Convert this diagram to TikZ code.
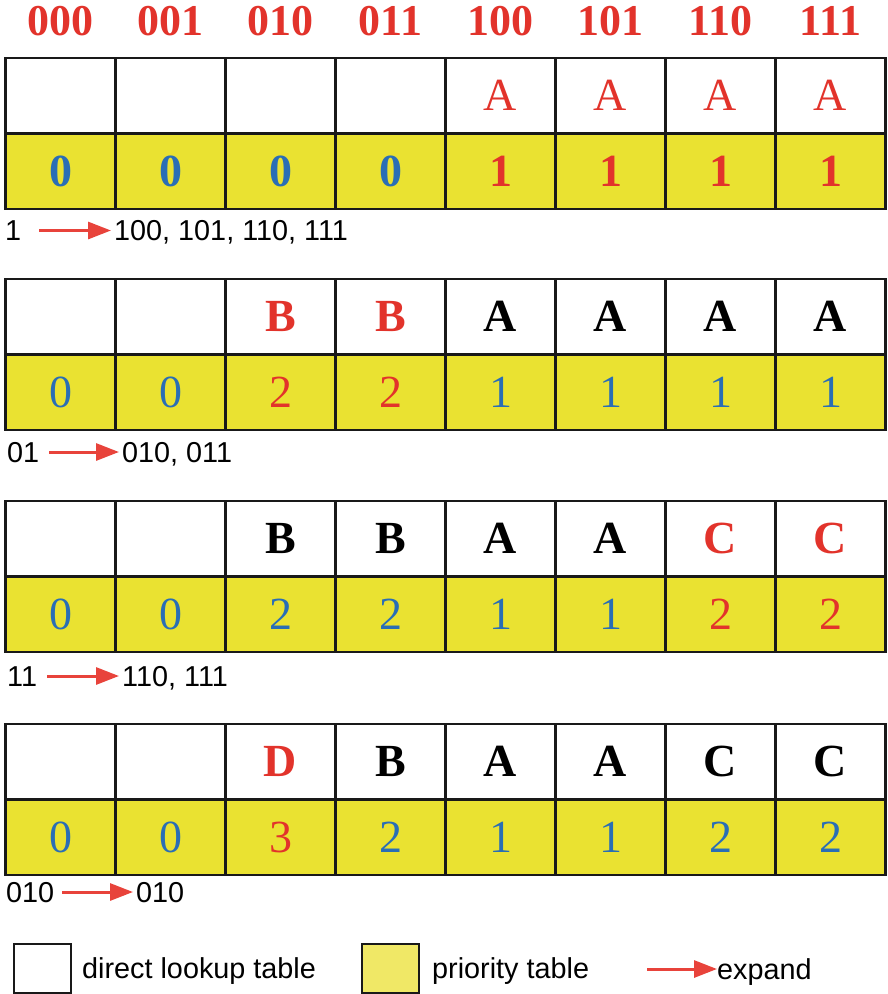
\documentclass[tikz,border=0pt]{standalone}
\usepackage{fontspec}
\setmainfont{Liberation Serif}
\setsansfont{Liberation Sans}
\usetikzlibrary{arrows.meta, positioning}
\definecolor{LookupRed}{HTML}{E2332B}
\definecolor{LookupBlue}{HTML}{2A6EB5}
\definecolor{LookupYellow}{HTML}{EAE231}
\definecolor{LookupLight}{HTML}{F0E866}
\definecolor{LookupArrow}{HTML}{E8433B}
\newcommand{\cellfont}{\fontsize{46}{46}\selectfont}
\newcommand{\hdrfont}{\fontsize{44}{44}\selectfont\bfseries}
\newcommand{\lblfont}{\fontsize{28.8}{29}\selectfont\sffamily}

\begin{document}
\begin{tikzpicture}[x=1pt, y=-1pt,
    dlt/.style={
      rectangle, draw=black!90, line width=2.6pt, fill=white,
      minimum width=110pt, minimum height=75.5pt, inner sep=0pt, font=\cellfont
    },
    pri/.style={dlt, fill=LookupYellow},
    blank/.style={},
    redR/.style={text=LookupRed},
    redB/.style={text=LookupRed, font=\cellfont\bfseries},
    bluR/.style={text=LookupBlue},
    bluB/.style={text=LookupBlue, font=\cellfont\bfseries},
    blkB/.style={text=black, font=\cellfont\bfseries},
    hdr/.style={text=LookupRed, font=\hdrfont, inner sep=0pt},
    lbl/.style={font=\lblfont, inner sep=0pt, text height=20.5pt, text depth=0pt},
    legbox/.style={rectangle, draw=black!90, line width=2pt, minimum width=57pt, minimum height=49pt},
    expandarr/.style={-{Triangle[length=23pt, width=17pt]}, line width=3pt, draw=LookupArrow}
  ]
  \useasboundingbox (0,0) rectangle (887,994);

  % column headers
  \foreach \h [count=\i] in {000, 001, 010, 011, 100, 101, 110, 111}
    \node[hdr] (h\i) at (110*\i-49.5, 21) {\h};

  % table 1
  \foreach \s/\v [count=\i] in {blank/{}, blank/{}, blank/{}, blank/{}, redR/A, redR/A, redR/A, redR/A}
    \node[dlt, \s] (d1-\i) at (110*\i-49.5, 95.75) {\v};
  \foreach \s/\v [count=\i] in {bluB/0, bluB/0, bluB/0, bluB/0, redB/1, redB/1, redB/1, redB/1}
    \node[pri, \s] (p1-\i) at (110*\i-49.5, 171.25) {\v};

  % table 2
  \foreach \s/\v [count=\i] in {blank/{}, blank/{}, redB/B, redB/B, blkB/A, blkB/A, blkB/A, blkB/A}
    \node[dlt, \s] (d2-\i) at (110*\i-49.5, 316.75) {\v};
  \foreach \s/\v [count=\i] in {bluR/0, bluR/0, redR/2, redR/2, bluR/1, bluR/1, bluR/1, bluR/1}
    \node[pri, \s] (p2-\i) at (110*\i-49.5, 392.25) {\v};

  % table 3
  \foreach \s/\v [count=\i] in {blank/{}, blank/{}, blkB/B, blkB/B, blkB/A, blkB/A, redB/C, redB/C}
    \node[dlt, \s] (d3-\i) at (110*\i-49.5, 538.75) {\v};
  \foreach \s/\v [count=\i] in {bluR/0, bluR/0, bluR/2, bluR/2, bluR/1, bluR/1, redR/2, redR/2}
    \node[pri, \s] (p3-\i) at (110*\i-49.5, 614.25) {\v};

  % table 4
  \foreach \s/\v [count=\i] in {blank/{}, blank/{}, redB/D, blkB/B, blkB/A, blkB/A, blkB/C, blkB/C}
    \node[dlt, \s] (d4-\i) at (110*\i-49.5, 761.75) {\v};
  \foreach \s/\v [count=\i] in {bluR/0, bluR/0, redR/3, bluR/2, bluR/1, bluR/1, bluR/2, bluR/2}
    \node[pri, \s] (p4-\i) at (110*\i-49.5, 837.25) {\v};

  % expansions
  \node[lbl, anchor=west] (src1) at (5, 230.5) {1};
  \node[lbl, anchor=west] (dst1) at (114, 230.5) {100, 101, 110, 111};
  \draw[expandarr] ([xshift=18pt]src1.east) -- ([xshift=-3pt]dst1.west);

  \node[lbl, anchor=west] (src2) at (7, 452) {01};
  \node[lbl, anchor=west] (dst2) at (122, 452) {010, 011};
  \draw[expandarr] ([xshift=10pt]src2.east) -- ([xshift=-3pt]dst2.west);

  \node[lbl, anchor=west] (src3) at (7, 676) {11};
  \node[lbl, anchor=west] (dst3) at (122, 676) {110, 111};
  \draw[expandarr] ([xshift=10pt]src3.east) -- ([xshift=-3pt]dst3.west);

  \node[lbl, anchor=west] (src4) at (6, 892) {010};
  \node[lbl, anchor=west] (dst4) at (136, 892) {010};
  \draw[expandarr] ([xshift=8pt]src4.east) -- ([xshift=-3pt]dst4.west);

  % legend
  \node[legbox, fill=white] (legd) at (42.5, 968.5) {};
  \node[lbl, right=10pt of legd] (legdt) {direct lookup table};
  \node[legbox, fill=LookupLight] (legp) at (390.5, 968.5) {};
  \node[lbl, right=12pt of legp] (legpt) {priority table};
  \coordinate (lega) at (647, 969);
  \node[lbl, anchor=west] (legx) at (717, 969) {expand};
  \draw[expandarr] (lega) -- (legx.west);
\end{tikzpicture}
\end{document}
